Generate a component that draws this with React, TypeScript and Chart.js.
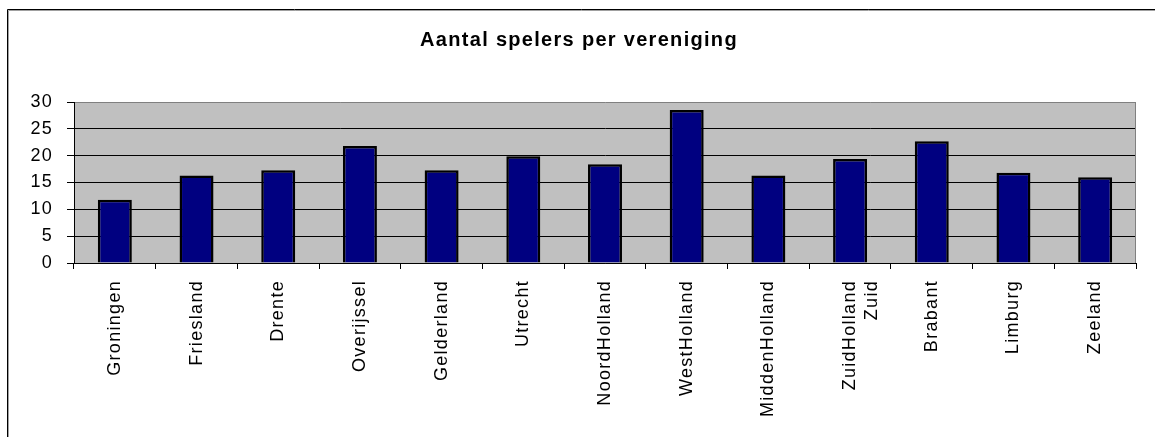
import React, { useEffect, useRef } from "react";
import { Chart, registerables } from "chart.js";

Chart.register(...registerables);

const categories: (string | string[])[] = [
  "Groningen",
  "Friesland",
  "Drente",
  "Overijssel",
  "Gelderland",
  "Utrecht",
  "NoordHolland",
  "WestHolland",
  "MiddenHolland",
  ["ZuidHolland", "Zuid"],
  "Brabant",
  "Limburg",
  "Zeeland",
];

const spelers: number[] = [11.8, 16.3, 17.3, 21.8, 17.3, 19.9, 18.4, 28.5, 16.3, 19.4, 22.7, 16.8, 16.0];

const yTicks: number[] = [0, 5, 10, 15, 20, 25, 30];

const titleText = "Aantal spelers per vereniging";

const FONT = "'Liberation Sans', Arial, sans-serif";

const setSpacing = (chart: any) => {
  try {
    chart.ctx.letterSpacing = "1.3px";
  } catch (e) {
    /* ignore */
  }
};

const framePlugin = {
  id: "framePlugin",
  beforeUpdate(chart: any) {
    setSpacing(chart);
  },
  beforeLayout(chart: any) {
    setSpacing(chart);
  },
  beforeDraw(chart: any) {
    setSpacing(chart);
    const { ctx, chartArea } = chart;
    ctx.save();
    ctx.fillStyle = "#ffffff";
    ctx.fillRect(0, 0, chart.width, chart.height);
    ctx.fillStyle = "#c0c0c0";
    ctx.fillRect(chartArea.left, chartArea.top, chartArea.right - chartArea.left, chartArea.bottom - chartArea.top);
    ctx.restore();
  },
  beforeDatasetsDraw(chart: any) {
    const { ctx, chartArea } = chart;
    ctx.save();
    ctx.strokeStyle = "#808080";
    ctx.lineWidth = 1;
    ctx.beginPath();
    ctx.moveTo(chartArea.right - 0.5, chartArea.top);
    ctx.lineTo(chartArea.right - 0.5, chartArea.bottom);
    ctx.stroke();
    ctx.restore();
  },
  afterDraw(chart: any) {
    const { ctx } = chart;
    ctx.save();
    ctx.strokeStyle = "#000000";
    ctx.lineWidth = 1;
    ctx.beginPath();
    ctx.moveTo(7.5, chart.height);
    ctx.lineTo(7.5, 9.5);
    ctx.lineTo(chart.width, 9.5);
    ctx.stroke();
    ctx.strokeStyle = "#a0a0a0";
    ctx.beginPath();
    ctx.moveTo(8.5, chart.height);
    ctx.lineTo(8.5, 10.5);
    ctx.lineTo(chart.width, 10.5);
    ctx.stroke();
    ctx.restore();
  },
};

export default function App() {
  const canvasRef = useRef<HTMLCanvasElement | null>(null);

  useEffect(() => {
    const canvas = canvasRef.current;
    if (!canvas) return;
    const chart = new Chart(canvas, {
      type: "bar",
      data: {
        labels: categories,
        datasets: [
          {
            data: spelers,
            backgroundColor: "#000080",
            borderColor: "#000000",
            borderWidth: 2.5,
            categoryPercentage: 1,
            barPercentage: 0.416,
          },
        ],
      },
      options: {
        animation: false,
        responsive: false,
        devicePixelRatio: 1,
        layout: { padding: { left: 22, right: 19, top: 0, bottom: 0 } },
        plugins: {
          legend: { display: false },
          tooltip: { enabled: false },
          title: {
            display: true,
            text: titleText,
            color: "#000000",
            font: { family: FONT, size: 20, weight: "bold", lineHeight: 1.2 },
            padding: { top: 28, bottom: 50 },
          },
        },
        scales: {
          x: {
            offset: true,
            grid: {
              offset: true,
              drawOnChartArea: false,
              drawTicks: true,
              tickLength: 6,
              color: "#000000",
            },
            border: { display: true, color: "#000000", width: 1 },
            ticks: {
              color: "#000000",
              font: { family: FONT, size: 18 },
              minRotation: 90,
              maxRotation: 90,
              autoSkip: false,
              padding: 11,
            },
            afterFit(scale: any) {
              scale.height = 174;
            },
          },
          y: {
            min: 0,
            max: 30,
            afterBuildTicks(scale: any) {
              scale.ticks = yTicks.map((v) => ({ value: v }));
            },
            grid: {
              color: (c: any) => (c.tick && c.tick.value === 30 ? "#808080" : "#000000"),
              tickColor: "#000000",
              tickLength: 7,
              lineWidth: 1,
            },
            border: { display: true, color: "#000000", width: 1 },
            ticks: {
              color: "#000000",
              font: { family: FONT, size: 18 },
              padding: 14,
              stepSize: 5,
            },
            afterFit(scale: any) {
              scale.width = 52;
            },
          },
        },
      },
      plugins: [framePlugin],
    });
    return () => chart.destroy();
  }, []);

  return (
    <div style={{ position: "fixed", left: 0, top: 0, width: 1155, height: 437, background: "#fff" }}>
      <canvas ref={canvasRef} width={1155} height={437} style={{ display: "block" }} />
    </div>
  );
}
